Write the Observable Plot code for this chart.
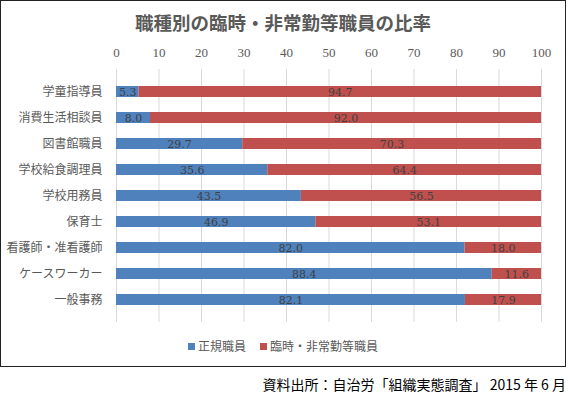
<!DOCTYPE html>
<html><head><meta charset="utf-8">
<script src="https://cdn.jsdelivr.net/npm/d3@7"></script>
<script src="https://cdn.jsdelivr.net/npm/@observablehq/plot@0.6"></script>
<style>
html,body{margin:0;padding:0;background:#fff;}
#page{position:relative;width:568px;height:393px;overflow:hidden;background:#fff;}
#box{position:absolute;left:0;top:0;width:566px;height:367px;box-sizing:border-box;border:1px solid #222;}
#title{position:absolute;left:0;top:9px;width:566px;text-align:center;font-family:"Noto Sans CJK JP";font-weight:700;font-size:18.5px;line-height:26px;color:#595959;}
#chart{position:absolute;left:0;top:0;}
#legend{position:absolute;left:0;top:338px;width:566px;text-align:center;font-family:"Noto Sans CJK JP";font-size:12px;line-height:16px;color:#595959;}
#legend span.item{display:inline-block;margin:0 7px;}
#legend i{display:inline-block;width:7px;height:7px;margin-right:3px;vertical-align:1px;}
#caption{position:absolute;right:2px;top:375px;font-family:"Noto Sans CJK JP";font-size:14px;line-height:18px;color:#000;white-space:nowrap;}
</style></head>
<body>
<div id="page">
  <div id="box"></div>
  <div id="chart"></div>
  <div id="title">職種別の臨時・非常勤等職員の比率</div>
  <div id="legend"></div>
  <div id="caption">資料出所：自治労「組織実態調査」 2015 年 6 月</div>
</div>
<script>
const categories = ["学童指導員","消費生活相談員","図書館職員","学校給食調理員","学校用務員","保育士","看護師・准看護師","ケースワーカー","一般事務"];
const regular   = [5.3, 8.0, 29.7, 35.6, 43.5, 46.9, 82.0, 88.4, 82.1];
const temporary = [94.7, 92.0, 70.3, 64.4, 56.5, 53.1, 18.0, 11.6, 17.9];
const seriesNames = ["正規職員","臨時・非常勤等職員"];
const seriesColors = ["#4F81BD","#C0504D"];
const xTicks = [0,10,20,30,40,50,60,70,80,90,100];

const data = [];
categories.forEach((c,i)=>{
  data.push({category:c, series:seriesNames[0], value:regular[i]});
  data.push({category:c, series:seriesNames[1], value:temporary[i]});
});

const chart = Plot.plot({
  width: 566,
  height: 330,
  marginLeft: 116,
  marginRight: 25,
  marginTop: 69,
  marginBottom: 8,
  style: {background:"transparent", overflow:"visible"},
  x: {domain:[0,100]},
  y: {domain: categories, padding: 0.58},
  color: {domain: seriesNames, range: seriesColors},
  marks: [
    Plot.gridX(xTicks, {stroke:"#d9d9d9", strokeOpacity:1}),
    Plot.barX(data, Plot.stackX({x:"value", y:"category", fill:"series", order: seriesNames})),
    Plot.text(data, Plot.stackX({x:"value", y:"category", z:"series", order: seriesNames, text: d=>d.value.toFixed(1), fill:"#404040", fontFamily:"DejaVu Serif", fontSize:11})),
    Plot.axisX(xTicks, {anchor:"top", tickSize:0, tickPadding:13, fontFamily:"Liberation Serif", fontSize:13, fill:"#595959", label:null}),
    Plot.axisY({tickSize:0, tickPadding:14, fontFamily:"Noto Sans CJK JP", fontSize:12, fill:"#595959", label:null})
  ]
});
document.getElementById("chart").appendChild(chart);

const legend = document.getElementById("legend");
seriesNames.forEach((s,i)=>{
  const item = document.createElement("span");
  item.className = "item";
  const sw = document.createElement("i");
  sw.style.background = seriesColors[i];
  item.appendChild(sw);
  item.appendChild(document.createTextNode(s));
  legend.appendChild(item);
});
</script>
</body></html>
